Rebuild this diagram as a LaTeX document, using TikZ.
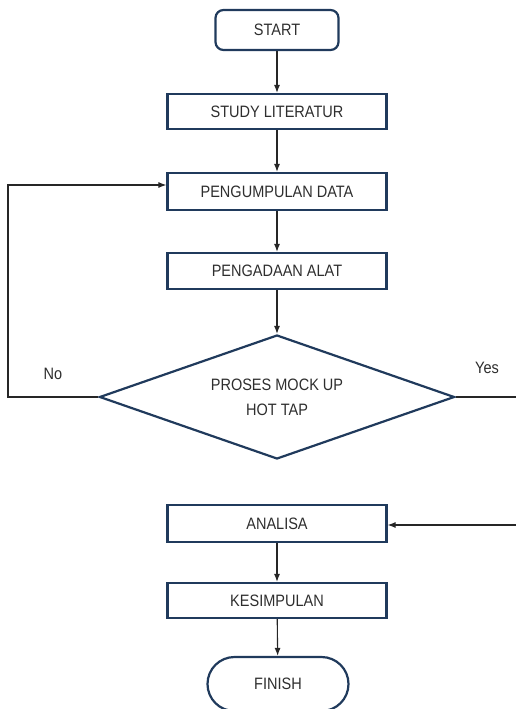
\documentclass[tikz,border=0pt]{standalone}
\usepackage{fontspec}
\setmainfont[FakeStretch=0.88]{Liberation Sans}
\usetikzlibrary{shapes.geometric,arrows.meta}
\definecolor{boxline}{HTML}{203A5C}
\definecolor{txt}{HTML}{2E2E2E}

\begin{document}
\begin{tikzpicture}[x=1pt,y=1pt,
		font=\fontsize{16.5}{25}\selectfont, text=txt,
		proc/.style={draw=boxline, line width=2.2pt, minimum width=219pt, minimum height=36pt, inner sep=0pt},
		term/.style={proc, rounded corners=8pt, minimum width=123pt, minimum height=40pt},
		decide/.style={draw=boxline, line width=2.2pt, diamond, aspect=2.86, minimum width=355pt, minimum height=124pt, inner sep=0pt, align=center},
		flow/.style={draw=black!85, line width=1.1pt, -{Latex[length=8pt,width=6pt]}}]
		\useasboundingbox (0,0) rectangle (516,-709);
		\node[term] (start) at (277,-30) {START};
		\node[proc, minimum height=35pt] (study) at (277,-111.5) {STUDY LITERATUR};
		\node[proc, minimum height=37pt] (data) at (277,-191.5) {PENGUMPULAN DATA};
		\node[proc] (alat) at (277,-271) {PENGADAAN ALAT};
		\node[decide] (proses) at (277,-397) {PROSES MOCK UP\\HOT TAP};
		\node[proc, minimum height=37pt] (analisa) at (277,-523.5) {ANALISA};
		\node[proc, minimum height=35pt] (simpul) at (277,-600.5) {KESIMPULAN};
		\node[term, rounded corners=27pt, minimum width=141pt, minimum height=54pt] (finish) at (278,-684) {FINISH};
		\node (no) at (53,-374) {No};
		\node (yes) at (487,-368) {Yes};
		\coordinate (noTop) at (8,-185);
		\coordinate (yesEnd) at (516,-397);
		\coordinate (anaIn) at (516,-525);
		\draw[flow] (start) -- (study);
		\draw[flow] (study) -- (data);
		\draw[flow] (data) -- (alat);
		\draw[flow] (alat) -- (proses);
		\draw[flow] (proses.west) -| (noTop) -- (noTop -| data.west);
		\draw[flow, -] (proses.east) -- (yesEnd);
		\draw[flow] (anaIn) -- (anaIn -| analisa.east);
		\draw[flow] (analisa) -- (simpul);
		\draw[flow] (simpul) -- (finish);
	\end{tikzpicture}
\end{document}
